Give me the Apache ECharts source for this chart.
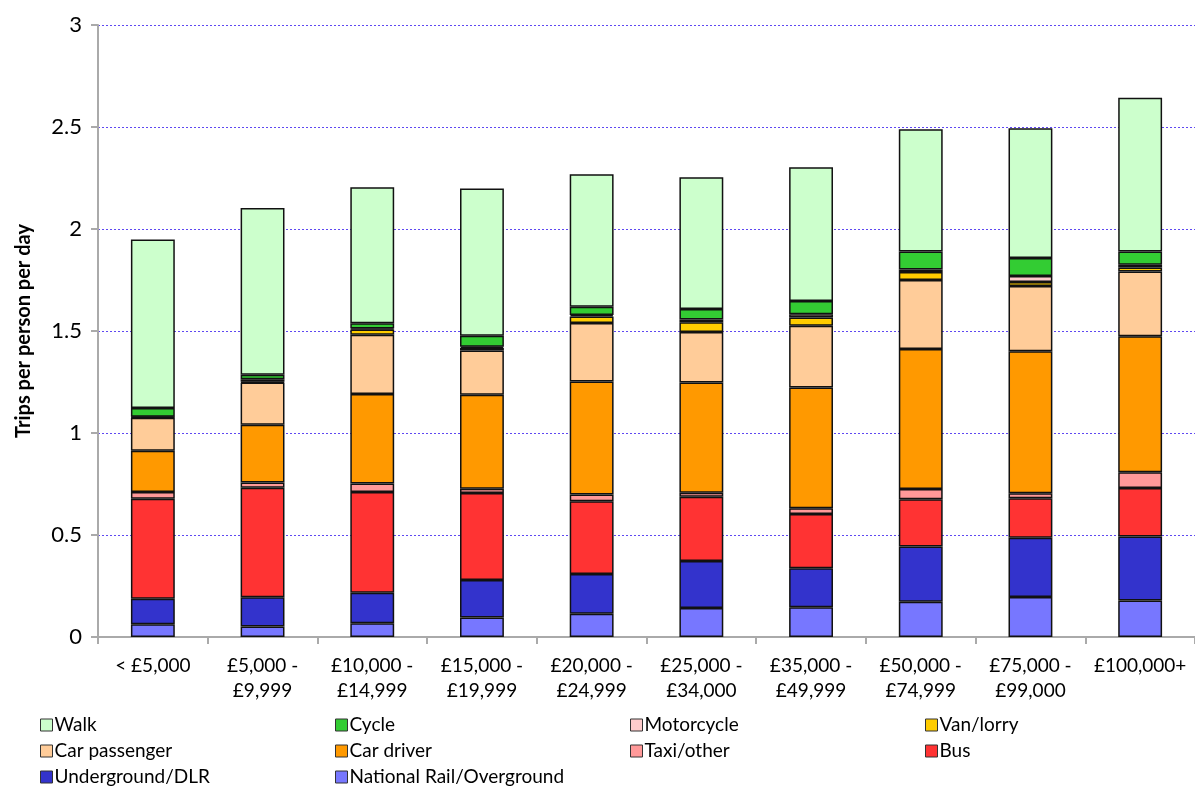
<!DOCTYPE html>
<html>
<head>
<meta charset="utf-8">
<script src="https://cdn.jsdelivr.net/npm/echarts@6/dist/echarts.min.js"></script>
<style>html,body{margin:0;padding:0;background:#fff}#c{width:1195px;height:787px}</style>
</head>
<body>
<div id="c"></div>
<script>
const categories = ['< £5,000', '£5,000 -\n£9,999', '£10,000 -\n£14,999', '£15,000 -\n£19,999', '£20,000 -\n£24,999', '£25,000 -\n£34,000', '£35,000 -\n£49,999', '£50,000 -\n£74,999', '£75,000 -\n£99,000', '£100,000+'];
const nationalRail = [0.062, 0.051, 0.067, 0.095, 0.114, 0.142, 0.146, 0.173, 0.196, 0.179];
const underground  = [0.126, 0.144, 0.150, 0.184, 0.195, 0.231, 0.191, 0.271, 0.290, 0.314];
const bus          = [0.490, 0.537, 0.494, 0.427, 0.356, 0.315, 0.266, 0.231, 0.194, 0.238];
const taxiOther    = [0.033, 0.025, 0.042, 0.021, 0.034, 0.019, 0.028, 0.051, 0.025, 0.077];
const carDriver    = [0.202, 0.284, 0.438, 0.461, 0.554, 0.541, 0.592, 0.686, 0.696, 0.666];
const carPassenger = [0.162, 0.206, 0.291, 0.217, 0.286, 0.247, 0.303, 0.338, 0.319, 0.318];
const vanLorry     = [0.003, 0.004, 0.025, 0.012, 0.032, 0.048, 0.040, 0.039, 0.020, 0.019];
const motorcycle   = [0.002, 0.012, 0.005, 0.006, 0.007, 0.013, 0.016, 0.013, 0.029, 0.014];
const cycle        = [0.043, 0.023, 0.026, 0.054, 0.041, 0.052, 0.065, 0.088, 0.089, 0.065];
const walk         = [0.825, 0.817, 0.667, 0.722, 0.649, 0.646, 0.656, 0.599, 0.636, 0.753];
const yTicks = { min: 0, max: 3, interval: 0.5 };

const seriesDefs = [
  ['National Rail/Overground', nationalRail, '#7777FF'],
  ['Underground/DLR', underground, '#3333CC'],
  ['Bus', bus, '#FF3333'],
  ['Taxi/other', taxiOther, '#FF9999'],
  ['Car driver', carDriver, '#FF9900'],
  ['Car passenger', carPassenger, '#FFCC99'],
  ['Van/lorry', vanLorry, '#FFCC00'],
  ['Motorcycle', motorcycle, '#FFCCCC'],
  ['Cycle', cycle, '#33CC33'],
  ['Walk', walk, '#CCFFCC']
];
const FONT = 'Lato, "Open Sans", sans-serif';
const legendCols = [
  ['Walk', 'Car passenger', 'Underground/DLR'],
  ['Cycle', 'Car driver', 'National Rail/Overground'],
  ['Motorcycle', 'Taxi/other'],
  ['Van/lorry', 'Bus']
];
const chart = echarts.init(document.getElementById('c'), null, { renderer: 'canvas' });
chart.setOption({
  animation: false,
  textStyle: { fontFamily: FONT },
  grid: { left: 98, right: 0, top: 25, bottom: 150, containLabel: false },
  legend: legendCols.map((col, i) => ({
    data: col,
    left: 40 + i * 295,
    top: 714,
    width: 290,
    height: 120,
    orient: 'vertical',
    itemWidth: 12,
    itemHeight: 12,
    itemGap: 4,
    icon: 'rect',
    selectedMode: false,
    padding: 0,
    itemStyle: { borderColor: '#333', borderWidth: 1 },
    textStyle: { fontFamily: FONT, fontSize: 19, color: '#000', lineHeight: 22, padding: [0, 0, 0, -3] }
  })),
  xAxis: {
    type: 'category',
    data: categories,
    axisLine: { lineStyle: { color: '#aaa', width: 2 } },
    axisTick: { show: true, length: 7, lineStyle: { color: '#aaa', width: 2 } },
    axisLabel: { color: '#000', fontSize: 19, fontFamily: FONT, margin: 16, lineHeight: 25, interval: 0 }
  },
  yAxis: {
    type: 'value',
    min: yTicks.min, max: yTicks.max, interval: yTicks.interval,
    name: 'Trips per person per day',
    nameLocation: 'middle',
    nameGap: 64,
    nameTextStyle: { fontSize: 20, fontWeight: 'bold', color: '#000', fontFamily: FONT },
    axisLine: { show: true, lineStyle: { color: '#aaa', width: 2 } },
    axisTick: { show: true, inside: false, length: 7, lineStyle: { color: '#aaa', width: 2 } },
    axisLabel: { color: '#000', fontSize: 22, fontFamily: FONT, margin: 16 },
    splitLine: { show: true, lineStyle: { color: '#5f48f2', type: [2, 2], width: 1 } }
  },
  series: seriesDefs.map(([name, data, color]) => ({
    name: name,
    type: 'bar',
    stack: 'total',
    data: data,
    barWidth: '40%',
    itemStyle: { color: color, borderColor: '#111', borderWidth: 1.5 },
    emphasis: { disabled: true }
  }))
});
</script>
</body>
</html>
